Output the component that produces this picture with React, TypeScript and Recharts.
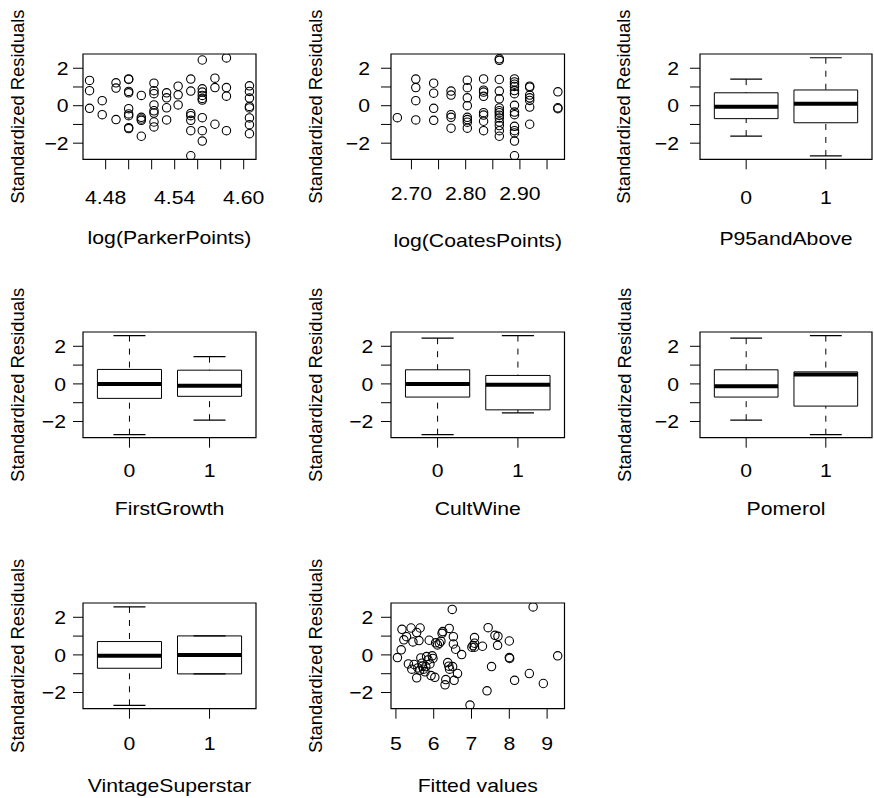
import React from 'react';
import { ComposedChart, Scatter, XAxis, YAxis, ReferenceArea, ReferenceLine, Label } from 'recharts';

const FONT = '"Liberation Sans", Arial, Helvetica, sans-serif';
const INK = '#000';

// ---------- shared residual axis ----------
const residualDomain: [number, number] = [-2.86, 2.76];
const residualTicks = [-2, -1, 0, 1, 2];
const residualTickLabels = [-2, 0, 2];
const yTitle = 'Standardized Residuals';

// ---------- log(ParkerPoints) ----------
const parkerDomain: [number, number] = [4.4603, 4.6107];
const parkerTicks = [4.48, 4.5, 4.52, 4.54, 4.56, 4.58, 4.6];
const parkerTickLabels = [4.48, 4.54, 4.6];
const parkerX = [4.466, 4.477, 4.489, 4.5, 4.511, 4.522, 4.533, 4.543, 4.554, 4.564, 4.575, 4.585, 4.605];
const parkerRes = [
  [1.35, 0.8, -0.14],
  [0.27, -0.48],
  [1.22, 0.94, -0.74],
  [1.43, 1.4, 0.76, 0.69, -0.16, -0.44, -0.53, -1.17, -1.22],
  [0.55, -0.62, -0.71, -0.78, -1.63],
  [1.2, 0.8, 0.64, 0.04, -0.27, -0.39, -0.87, -1.13],
  [0.69, 0.42, -0.11, -0.76],
  [1.04, 0.58, 0.04],
  [1.42, 0.78, -0.41, -0.53, -0.78, -1.33, -2.67],
  [2.44, 0.9, 0.73, 0.55, 0.39, 0.3, -0.64, -1.33, -1.89],
  [1.47, 0.97, -0.99],
  [2.55, 0.97, 0.51, -1.33],
  [1.06, 0.76, 0.41, -0.04, -0.12, -0.65, -1.01, -1.49],
];

// ---------- log(CoatesPoints) ----------
const coatesDomain: [number, number] = [2.6623, 2.9822];
const coatesTicks = [2.7, 2.75, 2.8, 2.85, 2.9, 2.95];
const coatesTickLabels = [2.7, 2.8, 2.9];
const coatesX = [2.674, 2.708, 2.741, 2.773, 2.803, 2.833, 2.862, 2.89, 2.918, 2.97];
const coatesRes = [
  [-0.64],
  [1.42, 0.97, 0.27, -0.76],
  [1.2, 0.67, -0.14, -0.78],
  [0.78, 0.57, -0.48, -0.62, -1.2],
  [1.36, 0.96, 0.42, 0.0, -0.62, -0.74, -0.88, -1.2],
  [1.43, 0.83, 0.73, 0.5, -0.37, -0.5, -0.83, -1.33],
  [2.5, 2.42, 1.4, 0.78, 0.37, -0.12, -0.27, -0.37, -0.51, -0.65, -0.87, -1.06, -1.33, -1.63],
  [1.43, 1.27, 1.15, 1.03, 0.81, 0.64, 0.02, -0.34, -0.48, -1.1, -1.33, -1.45, -1.89, -2.67],
  [1.04, 0.99, 0.57, 0.42, 0.28, -0.07, -0.99],
  [0.74, -0.11, -0.16],
];

// ---------- Fitted values ----------
const fittedDomain: [number, number] = [4.87, 9.46];
const fittedTicks = [5, 6, 7, 8, 9];
const fittedX = [
  5.04, 5.14, 5.16, 5.21, 5.28, 5.33, 5.4, 5.42, 5.45, 5.48, 5.55, 5.55, 5.58, 5.61, 5.63, 5.64, 5.66, 5.69,
  5.7, 5.73, 5.77, 5.79, 5.81, 5.85, 5.88, 5.9, 5.93, 5.96, 5.98, 6.03, 6.05, 6.1, 6.15, 6.19, 6.22, 6.24,
  6.3, 6.32, 6.37, 6.4, 6.41, 6.42, 6.49, 6.5, 6.52, 6.52, 6.54, 6.58, 6.63, 6.74, 6.96, 7.01, 7.04, 7.08,
  7.08, 7.08, 7.29, 7.41, 7.44, 7.53, 7.62, 7.69, 7.7, 8.0, 8.0, 8.01, 8.14, 8.53, 8.63, 8.9, 9.28,
];
const fittedY = [
  -0.14, 0.27, 1.36, 0.8, 0.97, -0.48, 1.43, -0.76, 0.69, -0.51, 1.19, -1.22, -0.69, 0.76, -0.81, 1.43, -0.16, -0.44,
  -0.6, -0.76, -0.9, -0.62, -0.09, -0.27, 0.78, -0.48, -1.1, -0.05, -0.19, -1.19, 0.64, 0.53, 0.62, 0.73, 1.15, 1.24,
  -1.59, -1.31, -0.41, -0.6, 1.41, -0.76, 2.42, -0.62, 0.97, 0.58, -1.35, 0.3, -0.99, 0.02, -2.67, 0.41, 0.5, 0.92,
  0.62, 0.41, 0.46, -1.91, 1.45, -0.62, 1.04, 0.51, 0.99, 0.74, -0.14, -0.19, -1.35, -0.99, 2.55, -1.52, -0.05,
];

// ---------- box plots (groups 0 and 1) ----------
const groupDomain: [number, number] = [0.42, 2.58];
const groupTicks = [1, 2];
const groupLabels = ['0', '1'];
type Box = { lo: number; q1: number; med: number; q3: number; hi: number };
const p95Boxes: Box[] = [
  { lo: -1.62, q1: -0.69, med: -0.05, q3: 0.69, hi: 1.42 },
  { lo: -2.68, q1: -0.91, med: 0.1, q3: 0.84, hi: 2.56 },
];
const firstGrowthBoxes: Box[] = [
  { lo: -2.7, q1: -0.77, med: 0.0, q3: 0.77, hi: 2.57 },
  { lo: -1.93, q1: -0.66, med: -0.1, q3: 0.73, hi: 1.45 },
];
const cultWineBoxes: Box[] = [
  { lo: -2.7, q1: -0.7, med: 0.0, q3: 0.75, hi: 2.43 },
  { lo: -1.54, q1: -1.38, med: -0.05, q3: 0.45, hi: 2.57 },
];
const pomerolBoxes: Box[] = [
  { lo: -1.93, q1: -0.7, med: -0.13, q3: 0.75, hi: 2.43 },
  { lo: -2.7, q1: -1.18, med: 0.5, q3: 0.64, hi: 2.57 },
];
const vintageBoxes: Box[] = [
  { lo: -2.68, q1: -0.71, med: -0.04, q3: 0.71, hi: 2.55 },
  { lo: -1.01, q1: -1.01, med: 0.0, q3: 1.01, hi: 1.01 },
];

const toPoints = (xs: number[], ys: number[][]) => xs.flatMap((x, i) => ys[i].map((y) => ({ x, y })));
const parkerPts = toPoints(parkerX, parkerRes);
const coatesPts = toPoints(coatesX, coatesRes);
const fittedPts = fittedX.map((x, i) => ({ x, y: fittedY[i] }));

type Cfg = {
  title: string;
  boxLeft: number; boxTop: number; boxW: number; boxH: number;
  yTickRight: number; yTitleX: number; xTickBase: number; xTitleBase: number;
  xDomain: [number, number]; xTicks: number[]; xLabel: (v: number) => string;
  points?: { x: number; y: number }[];
  boxes?: Box[];
};

const fmt2 = (labels: number[]) => (v: number) => (labels.some((l) => Math.abs(l - v) < 1e-9) ? v.toFixed(2) : '');
const groupFmt = (v: number) => groupLabels[groupTicks.indexOf(v)] ?? '';

const panels: Cfg[] = [
  { title: 'log(ParkerPoints)', boxLeft: 82.7, boxTop: 54.3, boxW: 173, boxH: 105.3, yTickRight: 14.4, yTitleX: 58.7, xTickBase: 44.7, xTitleBase: 85,
    xDomain: parkerDomain, xTicks: parkerTicks, xLabel: fmt2(parkerTickLabels), points: parkerPts },
  { title: 'log(CoatesPoints)', boxLeft: 391, boxTop: 54.3, boxW: 173.5, boxH: 105.3, yTickRight: 21, yTitleX: 69.3, xTickBase: 40.7, xTitleBase: 88,
    xDomain: coatesDomain, xTicks: coatesTicks, xLabel: fmt2(coatesTickLabels), points: coatesPts },
  { title: 'P95andAbove', boxLeft: 700, boxTop: 54.3, boxW: 172, boxH: 105.3, yTickRight: 21, yTitleX: 70, xTickBase: 44.7, xTitleBase: 85.7,
    xDomain: groupDomain, xTicks: groupTicks, xLabel: groupFmt, boxes: p95Boxes },
  { title: 'FirstGrowth', boxLeft: 82.7, boxTop: 332.3, boxW: 173, boxH: 105.7, yTickRight: 17, yTitleX: 59.4, xTickBase: 39.3, xTitleBase: 77,
    xDomain: groupDomain, xTicks: groupTicks, xLabel: groupFmt, boxes: firstGrowthBoxes },
  { title: 'CultWine', boxLeft: 391, boxTop: 332.3, boxW: 173.5, boxH: 105.7, yTickRight: 17.7, yTitleX: 68.7, xTickBase: 39.3, xTitleBase: 77,
    xDomain: groupDomain, xTicks: groupTicks, xLabel: groupFmt, boxes: cultWineBoxes },
  { title: 'Pomerol', boxLeft: 700, boxTop: 332.3, boxW: 172, boxH: 105.7, yTickRight: 21, yTitleX: 69.3, xTickBase: 39.3, xTitleBase: 77,
    xDomain: groupDomain, xTicks: groupTicks, xLabel: groupFmt, boxes: pomerolBoxes },
  { title: 'VintageSuperstar', boxLeft: 82.7, boxTop: 603.3, boxW: 173, boxH: 105.7, yTickRight: 17, yTitleX: 59.4, xTickBase: 41, xTitleBase: 83.7,
    xDomain: groupDomain, xTicks: groupTicks, xLabel: groupFmt, boxes: vintageBoxes },
  { title: 'Fitted values', boxLeft: 391, boxTop: 603.3, boxW: 173.5, boxH: 105.7, yTickRight: 17.7, yTitleX: 68.7, xTickBase: 41, xTitleBase: 83.7,
    xDomain: fittedDomain, xTicks: fittedTicks, xLabel: (v: number) => String(v), points: fittedPts },
];

const YW = 90;
const MT = 70;
const MR = 36;
const XH = 100;
const FS = 18.6;
const STRETCH = 1.14;

const yLabel = (v: number) =>
  residualTickLabels.includes(v) ? (v < 0 ? '\u2212' + Math.abs(v) : String(v)) : '';

function Panel({ c }: { c: Cfg }) {
  const width = YW + c.boxW + MR;
  const height = MT + c.boxH + XH;
  const textStyle = { fontFamily: FONT, fontSize: FS, fill: INK };
  const half = 0.4;
  const cap = 0.2;
  return (
    <div style={{ position: 'absolute', left: c.boxLeft - YW, top: c.boxTop - MT }}>
      <ComposedChart width={width} height={height} margin={{ top: MT, right: MR, bottom: 0, left: 0 }}>
        <XAxis
          type="number"
          dataKey="x"
          domain={c.xDomain}
          ticks={c.xTicks}
          interval={0}
          allowDataOverflow
          axisLine={false}
          tickLine={{ stroke: INK, strokeWidth: 1 }}
          tickSize={10}
          tickMargin={0}
          height={XH}
          tick={(p: any) => {
            const s = c.xLabel(p.payload.value);
            if (!s) return <g />;
            return (
              <text transform={`translate(${p.x} ${MT + c.boxH + c.xTickBase}) scale(${STRETCH} 1)`} x={0} y={0} textAnchor="middle" style={textStyle}>
                {s}
              </text>
            );
          }}
        >
          <Label
            content={() => (
              <text transform={`translate(${YW + c.boxW / 2} ${MT + c.boxH + c.xTitleBase}) scale(${STRETCH} 1)`} x={0} y={0} textAnchor="middle" style={textStyle}>
                {c.title}
              </text>
            )}
          />
        </XAxis>
        <YAxis
          type="number"
          dataKey="y"
          domain={residualDomain}
          ticks={residualTicks}
          interval={0}
          allowDataOverflow
          axisLine={false}
          tickLine={{ stroke: INK, strokeWidth: 1 }}
          tickSize={10}
          tickMargin={0}
          width={YW}
          tick={(p: any) => {
            const s = yLabel(p.payload.value);
            if (!s) return <g />;
            return (
              <text transform={`translate(${YW - c.yTickRight} ${p.y}) scale(${STRETCH} 1)`} x={0} y={0} dy="0.358em" textAnchor="end" style={textStyle}>
                {s}
              </text>
            );
          }}
        >
          <Label
            content={() => (
              <text transform={`translate(${YW - c.yTitleX} ${MT + c.boxH / 2}) rotate(-90)`} x={0} y={0} textAnchor="middle" style={{ fontFamily: FONT, fontSize: 18.4, fill: INK }}>
                {yTitle}
              </text>
            )}
          />
        </YAxis>
        {c.boxes &&
          c.boxes.map((b, i) => {
            const g = groupTicks[i];
            return (
              <React.Fragment key={'b' + i}>
                <ReferenceLine segment={[{ x: g, y: b.hi }, { x: g, y: b.q3 }]} stroke={INK} strokeWidth={1} strokeDasharray="6 7" ifOverflow="visible" />
                <ReferenceLine segment={[{ x: g, y: b.lo }, { x: g, y: b.q1 }]} stroke={INK} strokeWidth={1} strokeDasharray="6 7" ifOverflow="visible" />
                <ReferenceLine segment={[{ x: g - cap, y: b.hi }, { x: g + cap, y: b.hi }]} stroke={INK} strokeWidth={1.2} ifOverflow="visible" />
                <ReferenceLine segment={[{ x: g - cap, y: b.lo }, { x: g + cap, y: b.lo }]} stroke={INK} strokeWidth={1.2} ifOverflow="visible" />
                <ReferenceArea x1={g - half} x2={g + half} y1={b.q1} y2={b.q3} fill="#fff" fillOpacity={1} stroke={INK} strokeWidth={1} ifOverflow="visible" />
                <ReferenceLine segment={[{ x: g - half, y: b.med }, { x: g + half, y: b.med }]} stroke={INK} strokeWidth={4} ifOverflow="visible" />
              </React.Fragment>
            );
          })}
        {c.points && (
          <Scatter
            data={c.points}
            dataKey="y"
            isAnimationActive={false}
            shape={(p: any) => <circle cx={p.cx} cy={p.cy} r={4.2} fill="none" stroke={INK} strokeWidth={1.1} />}
          />
        )}
        <ReferenceArea
          x1={c.xDomain[0]}
          x2={c.xDomain[1]}
          y1={residualDomain[0]}
          y2={residualDomain[1]}
          fill="none"
          stroke={INK}
          strokeWidth={1.2}
          ifOverflow="visible"
        />
      </ComposedChart>
    </div>
  );
}

export default function App() {
  return (
    <div style={{ position: 'absolute', left: 0, top: 0, width: 874, height: 798, overflow: 'hidden', background: '#fff' }}>
      {panels.map((c) => (
        <Panel key={c.title} c={c} />
      ))}
    </div>
  );
}
